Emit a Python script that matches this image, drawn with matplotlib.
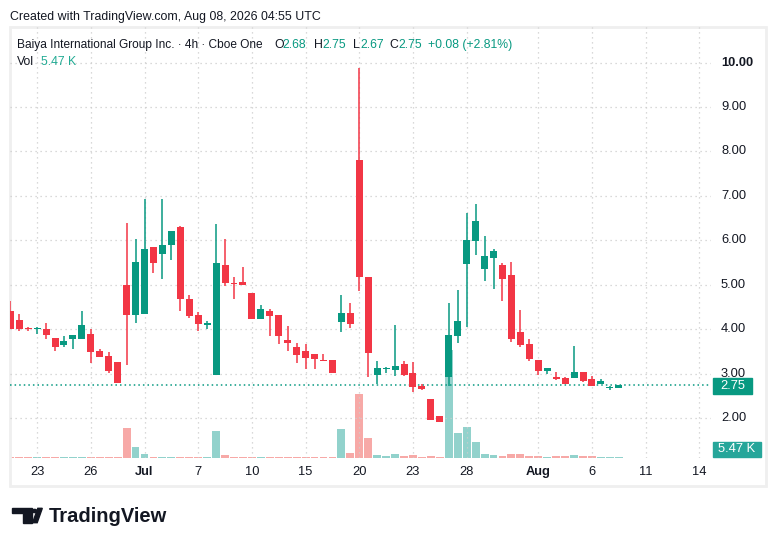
import matplotlib
matplotlib.use('Agg')
import matplotlib.pyplot as plt
from matplotlib.patches import Rectangle, Polygon, Circle

plt.rcParams['font.family'] = ['Liberation Sans', 'DejaVu Sans']

W, H = 776, 546

# 4h bars, Baiya International (Cboe One), Jun 18 - Aug 7 2026
opens = [4.42, 4.21, 4.01, 4.00, 4.01, 3.81, 3.64, 3.79, 3.77, 3.90,
         3.52, 3.40, 3.27, 5.00, 4.33, 4.35, 5.86, 5.69, 5.89, 6.29,
         4.69, 4.31, 4.09, 2.98, 5.45, 5.03, 5.07, 4.82, 4.24, 4.42,
         4.33, 3.76, 3.61, 3.52, 3.45, 3.29, 3.31, 4.17, 4.37, 7.80,
         5.18, 2.98, 3.10, 3.09, 3.22, 3.02, 2.73, 2.44, 2.05, 2.93,
         3.85, 5.47, 5.99, 5.36, 5.60, 5.44, 5.22, 3.93, 3.67, 3.31,
         3.05, 2.93, 2.91, 2.91, 3.04, 2.88, 2.76, 2.67, 2.68]
highs = [4.63, 4.35, 4.05, 4.06, 4.15, 3.81, 3.85, 3.88, 4.42, 4.01,
         3.55, 3.49, 3.27, 6.40, 6.02, 6.92, 5.86, 6.92, 6.20, 6.33,
         4.78, 4.39, 4.19, 6.36, 6.04, 5.18, 5.41, 4.82, 4.55, 4.46,
         4.33, 4.08, 3.70, 3.67, 3.45, 3.45, 3.31, 4.78, 4.60, 9.87,
         5.18, 3.28, 3.16, 4.10, 3.29, 3.27, 2.77, 2.44, 2.05, 4.60,
         4.89, 6.62, 6.82, 6.09, 5.80, 5.49, 5.51, 4.43, 3.78, 3.31,
         3.13, 3.04, 2.93, 3.62, 3.04, 2.95, 2.88, 2.73, 2.75]
lows = [4.00, 3.95, 3.97, 3.90, 3.79, 3.52, 3.61, 3.55, 3.77, 3.25,
        3.37, 3.01, 2.78, 3.19, 4.15, 4.35, 5.27, 5.12, 5.55, 4.42,
        4.25, 3.95, 4.00, 2.98, 4.97, 4.67, 4.99, 4.22, 4.24, 3.84,
        3.67, 3.52, 3.25, 3.11, 3.11, 3.28, 3.02, 3.94, 4.03, 4.87,
        2.93, 2.77, 3.02, 2.95, 2.95, 2.59, 2.64, 1.95, 1.92, 2.73,
        3.70, 4.04, 5.67, 5.09, 4.91, 4.64, 3.72, 3.61, 3.29, 2.98,
        3.00, 2.86, 2.76, 2.91, 2.82, 2.73, 2.76, 2.64, 2.67]
closes = [4.00, 4.00, 4.00, 4.01, 3.88, 3.59, 3.74, 3.88, 4.10, 3.48,
          3.37, 3.07, 2.80, 4.31, 5.52, 5.81, 5.48, 5.90, 6.20, 4.67,
          4.29, 4.11, 4.15, 5.48, 5.03, 5.02, 4.99, 4.24, 4.46, 4.29,
          3.84, 3.70, 3.43, 3.36, 3.32, 3.28, 3.02, 4.37, 4.12, 5.18,
          3.47, 3.13, 3.11, 3.18, 2.98, 2.69, 2.66, 1.95, 1.92, 3.88,
          4.19, 6.01, 6.43, 5.65, 5.76, 5.14, 3.79, 3.65, 3.34, 3.05,
          3.13, 2.89, 2.76, 3.04, 2.84, 2.73, 2.84, 2.68, 2.75]
# volume, thousands of shares
volumes = [8, 8, 6, 7, 8, 6, 7, 6, 7, 8,
           6, 7, 8, 234, 86, 34, 5, 10, 5, 10,
           4, 4, 4, 213, 26, 4, 4, 4, 4, 4,
           4, 4, 4, 4, 4, 4, 4, 224, 37, 497,
           154, 21, 13, 29, 13, 21, 8, 13, 5, 840,
           193, 239, 122, 29, 21, 13, 29, 29, 13, 13,
           5, 13, 13, 21, 13, 13, 5, 5, 5.47]

# trading days (Jun 18 shows only its second bar), two 4h bars per day
days = ['Jun 18', 'Jun 22', 'Jun 23', 'Jun 24', 'Jun 25', 'Jun 26', 'Jun 29', 'Jun 30',
        'Jul 1', 'Jul 2', 'Jul 6', 'Jul 7', 'Jul 8', 'Jul 9', 'Jul 10', 'Jul 13',
        'Jul 14', 'Jul 15', 'Jul 16', 'Jul 17', 'Jul 20', 'Jul 21', 'Jul 22', 'Jul 23',
        'Jul 24', 'Jul 27', 'Jul 28', 'Jul 29', 'Jul 30', 'Jul 31', 'Aug 3', 'Aug 4',
        'Aug 5', 'Aug 6', 'Aug 7', 'Aug 10', 'Aug 11', 'Aug 12', 'Aug 13', 'Aug 14']
tick_days = ['Jun 23', 'Jun 26', 'Jul 1', 'Jul 7', 'Jul 10', 'Jul 15', 'Jul 20',
             'Jul 23', 'Jul 28', 'Aug 3', 'Aug 6', 'Aug 11', 'Aug 14']
tick_labels = ['23', '26', 'Jul', '7', '10', '15', '20', '23', '28', 'Aug', '6', '11', '14']
price_ticks = [2, 3, 4, 5, 6, 7, 8, 9, 10]
last_price = 2.75

UP = '#089981'
DOWN = '#F23645'
UP_VOL = '#92D2CC'
DOWN_VOL = '#F7A9A7'
TXT = '#131722'
GRID = '#cdcdcd'


def fx(x):
    return x / W


def fy(y):
    return 1 - y / H


fig = plt.figure(figsize=(W / 100, H / 100), dpi=100)
fig.patch.set_facecolor('white')

# chart frame
fig.patches.append(Rectangle((fx(10), fy(486)), fx(766) - fx(10), fy(27) - fy(486),
                             transform=fig.transFigure, fill=False,
                             edgecolor='#efefef', lw=2, zorder=0))

left, right, top, bottom = 10, 711, 27, 458
ax = fig.add_axes([fx(left), fy(bottom), fx(right) - fx(left), fy(top) - fy(bottom)])
axv = ax.twinx()
ax.set_zorder(axv.get_zorder() + 1)
ax.patch.set_visible(False)

n = len(opens)
idx = list(range(n))
cols = [UP if c >= o else DOWN for o, c in zip(opens, closes)]
vcols = [UP_VOL if c >= o else DOWN_VOL for o, c in zip(opens, closes)]

# volume pane
axv.bar(idx, volumes, width=0.88, color=vcols, linewidth=0)
axv.set_ylim(0, 3362)

# candles
ax.vlines(idx, lows, highs, colors=cols, lw=1.1, zorder=3)
bodies = [max(abs(c - o), 0.022) for o, c in zip(opens, closes)]
bottoms = [min(o, c) for o, c in zip(opens, closes)]
ax.bar(idx, bodies, bottom=bottoms, width=0.78, color=cols, linewidth=0, zorder=4)

ax.set_xlim(-0.03, 78.3)
ax.set_ylim(1.103, 10.80)

tick_pos = [2 * days.index(d) - 1 for d in tick_days]
for p in price_ticks:
    ax.axhline(p, color=GRID, lw=0.9, ls=(0, (1, 3)), zorder=1)
for t in tick_pos:
    ax.axvline(t, color=GRID, lw=0.9, ls=(0, (1, 3)), zorder=1)

ax.axhline(last_price, color=UP, lw=1.1, ls=(0, (1, 2)), zorder=2)

for a in (ax, axv):
    a.set_xticks([])
    a.set_yticks([])
    for s in a.spines.values():
        s.set_visible(False)

# price scale
for p in price_ticks:
    ax.text(1.0143, p, '%.2f' % p, transform=ax.get_yaxis_transform(), ha='left',
            va='center', fontsize=9.3, color=TXT, fontweight='bold' if p == 10 else 'normal')

# time scale
for t, lab in zip(tick_pos, tick_labels):
    ax.text(t, -0.033, lab, transform=ax.get_xaxis_transform(), ha='center', va='center',
            fontsize=9.3, color=TXT, fontweight='bold' if lab in ('Jul', 'Aug') else 'normal')

# last price / volume labels
fig.patches.append(Rectangle((fx(713), fy(394)), fx(752) - fx(713), fy(378) - fy(394),
                             transform=fig.transFigure, color=UP, zorder=5))
fig.text(fx(732.5), fy(386), '%.2f' % last_price, color='white', fontsize=9.3,
         ha='center', va='center', zorder=6)
fig.patches.append(Rectangle((fx(713), fy(457)), fx(761) - fx(713), fy(442) - fy(457),
                             transform=fig.transFigure, color='#26A69A', zorder=5))
fig.text(fx(737), fy(449.5), '%.2f K' % volumes[-1], color='white', fontsize=9.3,
         ha='center', va='center', zorder=6)

# header and legend
fig.text(fx(10), fy(17.3), 'Created with TradingView.com, Aug 08, 2026 04:55 UTC',
         fontsize=8.9, color=TXT, ha='left', va='center')
fig.text(fx(17.3), fy(45), 'Baiya International Group Inc. · 4h · Cboe One',
         fontsize=8.6, color=TXT, ha='left', va='center')
legend = [(274, 'O', TXT), (282.7, '%.2f' % opens[-1], UP),
          (314, 'H', TXT), (322.7, '%.2f' % highs[-1], UP),
          (352.7, 'L', TXT), (360, '%.2f' % lows[-1], UP),
          (389, 'C', TXT), (398.7, '%.2f' % closes[-1], UP),
          (427.7, '+0.08 (+2.81%)', UP)]
for x, s, c in legend:
    fig.text(fx(x), fy(45), s, fontsize=8.8, color=c, ha='left', va='center')
fig.text(fx(17.3), fy(61.7), 'Vol', fontsize=8.8, color=TXT, ha='left', va='center')
fig.text(fx(41), fy(61.7), '%.2f K' % volumes[-1], fontsize=8.8, color='#22AB94',
         ha='left', va='center')

# TradingView logo
logo = '#131722'
fig.patches.append(Polygon([(fx(12), fy(508.3)), (fx(32), fy(508.3)), (fx(32), fy(522.7)),
                            (fx(23.3), fy(522.7)), (fx(23.3), fy(513.3)), (fx(12), fy(513.3))],
                           closed=True, transform=fig.transFigure, color=logo))
fig.patches.append(Circle((fx(34.6), fy(511)), 2.3 / W, transform=fig.transFigure, color=logo))
fig.patches.append(Polygon([(fx(37.8), fy(508.3)), (fx(42.3), fy(508.3)), (fx(37.2), fy(522.7)),
                            (fx(32.6), fy(522.7))],
                           closed=True, transform=fig.transFigure, color=logo))
fig.text(fx(49), fy(516), 'TradingView', fontsize=14.5, fontweight='bold', color=logo,
         ha='left', va='center')

fig.savefig('out.png', dpi=100)
